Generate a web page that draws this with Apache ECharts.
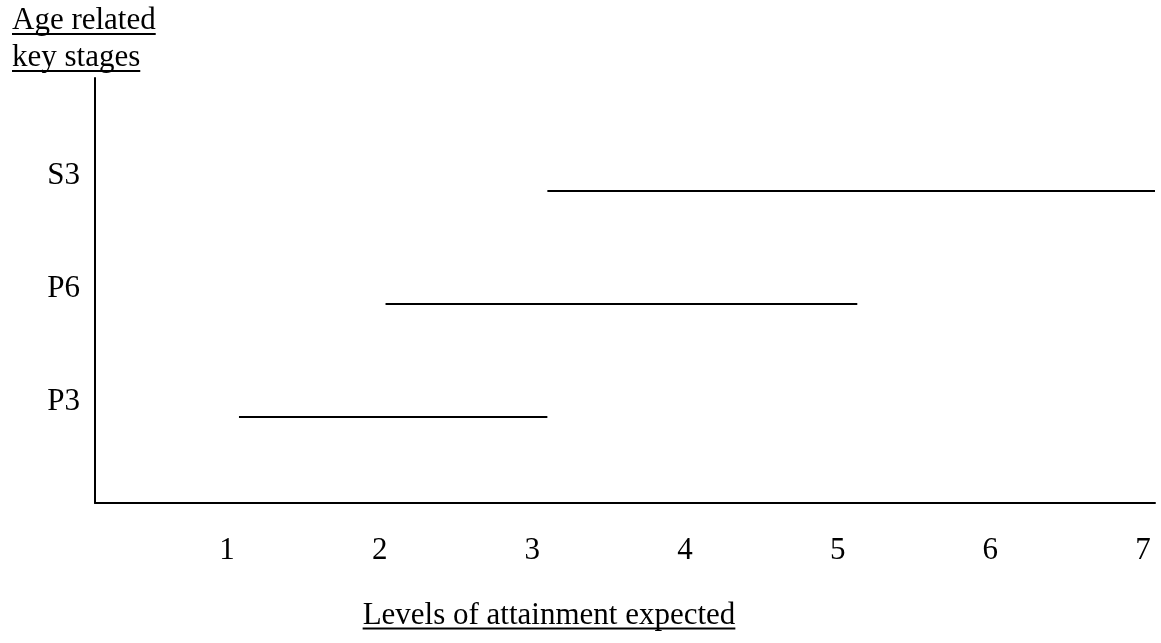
<!DOCTYPE html>
<html>
<head>
<meta charset="utf-8">
<style>
  html, body { margin: 0; padding: 0; background: #fff; }
  #chart { width: 1161px; height: 643px; }
</style>
<script src="https://cdn.jsdelivr.net/npm/echarts@6/dist/echarts.min.js"></script>
</head>
<body>
<div id="chart"></div>
<script>
// ---- data ----
const stages = ['P3', 'P6', 'S3'];
const stageLevel = [1, 2, 3];
const rangeStart = [1.0, 1.96, 3.02];
const rangeEnd = [3.02, 5.05, 7.0];
const xTicks = [1, 2, 3, 4, 5, 6, 7];
const yTitleLines = ['Age related', 'key stages'];
const xTitle = 'Levels of attainment expected';

// ---- styling ----
const FONT_FAMILY = '"Liberation Serif", "Times New Roman", serif';
const FONT_SIZE = 31;
const FONT = FONT_SIZE + 'px ' + FONT_FAMILY;

const ctx = document.createElement('canvas').getContext('2d');
ctx.font = FONT;
function textWidth(t) { return ctx.measureText(t).width; }

const series = stages.map((s, i) => ({
  name: s,
  type: 'line',
  data: [[rangeStart[i], stageLevel[i]], [rangeEnd[i], stageLevel[i]]],
  symbol: 'none',
  silent: true,
  clip: false,
  lineStyle: { color: '#000', width: 2 }
}));

// underlined title texts (middle-of-em placement; baseline - 10.5)
const graphics = [];
function underlinedText(text, x, baseline, align) {
  const w = textWidth(text);
  const left = align === 'center' ? x - w / 2 : x;
  graphics.push({
    type: 'text', silent: true,
    x: left, y: baseline - 10.5,
    style: { text: text, font: FONT, fill: '#000', textAlign: 'left', textVerticalAlign: 'middle' }
  });
  graphics.push({
    type: 'line', silent: true,
    shape: { x1: left, y1: baseline + 2.5, x2: left + w, y2: baseline + 2.5 },
    style: { stroke: '#000', lineWidth: 2 }
  });
}
underlinedText(yTitleLines[0], 12, 31.5);
underlinedText(yTitleLines[1], 12, 68.5);
underlinedText(xTitle, 549, 626, 'center');

const chart = echarts.init(document.getElementById('chart'), null, { renderer: 'canvas' });
chart.setOption({
  backgroundColor: '#fff',
  animation: false,
  grid: { left: 95, right: 6, top: 78, bottom: 140, containLabel: false },
  xAxis: {
    type: 'value',
    min: 0.057,
    max: 7,
    axisLine: { show: true, lineStyle: { color: '#000', width: 2 } },
    axisTick: { show: false },
    splitLine: { show: false },
    axisLabel: {
      customValues: xTicks,
      margin: 32,
      color: '#000',
      fontFamily: FONT_FAMILY,
      fontSize: FONT_SIZE,
      padding: [0, 24, 0, 0],
      formatter: v => String(v)
    }
  },
  yAxis: {
    type: 'value',
    min: 0.239,
    max: 4,
    axisLine: { show: true, lineStyle: { color: '#000', width: 2 } },
    axisTick: { show: false },
    splitLine: { show: false },
    axisLabel: {
      customValues: stageLevel,
      margin: 15,
      color: '#000',
      fontFamily: FONT_FAMILY,
      fontSize: FONT_SIZE,
      lineHeight: 31,
      verticalAlign: 'bottom',
      formatter: v => stages[stageLevel.indexOf(Math.round(v))] || ''
    }
  },
  graphic: graphics,
  series: series
});
</script>
</body>
</html>
